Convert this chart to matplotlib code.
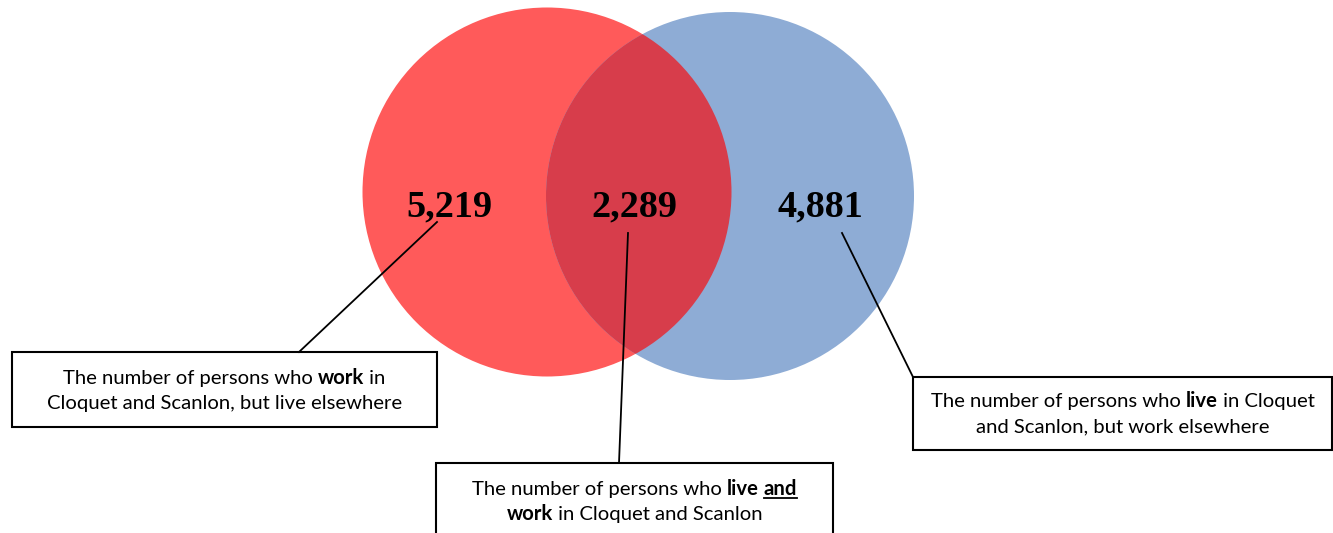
import matplotlib
matplotlib.use("Agg")
import matplotlib.pyplot as plt
from matplotlib.patches import Circle, Rectangle

# ---- data ----
counts = ["5,219", "2,289", "4,881"]
count_values = [5219, 2289, 4881]
work_color = "#FF5A5A"
live_color = "#8EACD5"
both_color = "#D73D4B"

# box captions: list of lines, each line list of (text, bold, underline)
captions = [
    [[("The number of persons who ", False, False), ("work", True, False), (" in", False, False)],
     [("Cloquet and Scanlon, but live elsewhere", False, False)]],
    [[("The number of persons who ", False, False), ("live", True, False), (" ", True, False), ("and", True, True)],
     [("work", True, False), (" in Cloquet and Scanlon", False, False)]],
    [[("The number of persons who ", False, False), ("live", True, False), (" in Cloquet", False, False)],
     [("and Scanlon, but work elsewhere", False, False)]],
]

W, H = 1333, 533
fig = plt.figure(figsize=(W / 100, H / 100), dpi=100)
ax = fig.add_axes([0, 0, 1, 1])
ax.set_xlim(0, W)
ax.set_ylim(H, 0)
ax.axis("off")

# circles
red = Circle((547, 192), 184.5, facecolor=work_color, edgecolor="none", zorder=1)
blue = Circle((730, 196), 184, facecolor=live_color, edgecolor="none", zorder=1)
ax.add_patch(red)
ax.add_patch(blue)
overlap = Circle((547, 192), 184.5, facecolor=both_color, edgecolor="none", zorder=2)
ax.add_patch(overlap)
clip = Circle((730, 196), 184, transform=ax.transData)
overlap.set_clip_path(clip)

# numbers
num_pos = [(449, 207), (634, 207), (820, 207)]
for (x, y), s in zip(num_pos, counts):
    ax.text(x, y, s, ha="center", va="center", fontsize=27.5, fontweight="bold",
            family="Liberation Serif", color="black", zorder=5)

# leader lines
leaders = [((437, 222), (299, 352)), ((628, 233), (619, 463)), ((842, 233), (913, 377))]
for (x0, y0), (x1, y1) in leaders:
    ax.plot([x0, x1], [y0, y1], color="black", lw=1.3, zorder=4)

# boxes
boxes = [(12, 352, 425, 75), (436, 463, 397, 80), (913, 377, 419, 73)]
for (x, y, w, h) in boxes:
    ax.add_patch(Rectangle((x, y), w, h, facecolor="white", edgecolor="black", lw=1.5, zorder=3))

fig.canvas.draw()
renderer = fig.canvas.get_renderer()
FS = 14.6
FAM = "Lato"

def draw_line(cx, baseline, segs):
    objs = []
    widths = []
    for txt, bold, und in segs:
        t = ax.text(0, baseline, txt, ha="left", va="baseline", fontsize=FS, family=FAM,
                    fontweight="bold" if bold else "normal", color="black", zorder=6)
        bb = t.get_window_extent(renderer)
        objs.append((t, und))
        widths.append(bb.width)
    total = sum(widths)
    x = cx - total / 2
    for (t, und), w in zip(objs, widths):
        t.set_x(x)
        if und:
            ax.plot([x, x + w], [baseline + 3, baseline + 3], color="black", lw=1.3, zorder=6)
        x += w

line_gap = 25
for (bx, by, bw, bh), cap in zip(boxes, captions):
    cx = bx + bw / 2
    first = by + 32 if by != 377 else by + 30
    for i, segs in enumerate(cap):
        draw_line(cx, first + i * line_gap, segs)

fig.savefig("out.png", dpi=100, facecolor="white")
